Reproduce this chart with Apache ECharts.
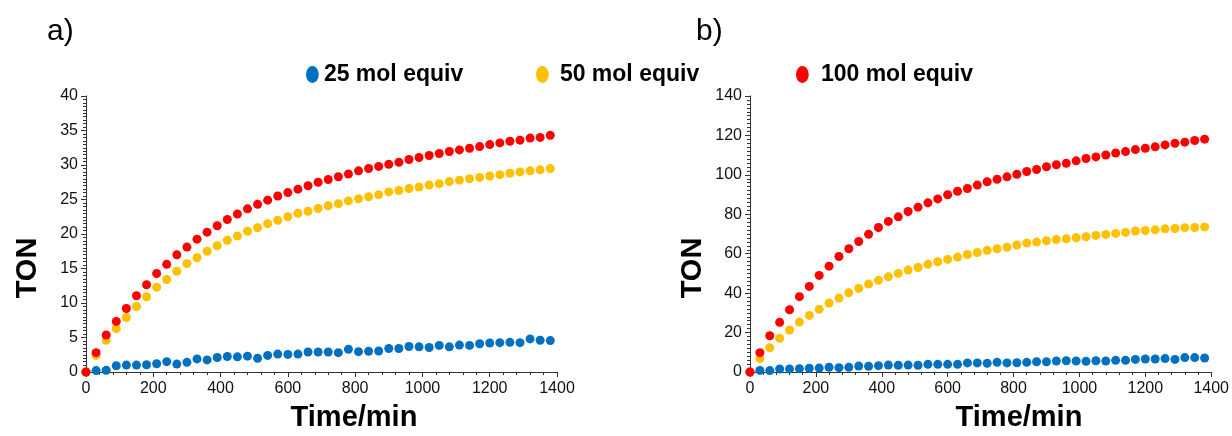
<!DOCTYPE html>
<html>
<head>
<meta charset="utf-8">
<script src="https://cdn.jsdelivr.net/npm/echarts@6/dist/echarts.min.js"></script>
<style>
html,body{margin:0;padding:0;background:#fff;}
#chart{width:1232px;height:436px;}
</style>
</head>
<body>
<div id="chart"></div>
<script>
// Time points (min)
const timeMin = [0,30,60,90,120,150,180,210,240,270,300,330,360,390,420,450,480,510,540,570,600,630,660,690,720,750,780,810,840,870,900,930,960,990,1020,1050,1080,1110,1140,1170,1200,1230,1260,1290,1320,1350,1380];

const seriesNames = ['25 mol equiv', '50 mol equiv', '100 mol equiv'];

// Panel a) TON
const a25 = [0,0.2,0.25,0.9,1.0,1.0,1.05,1.2,1.5,1.15,1.4,1.9,1.75,2.1,2.25,2.2,2.3,2.0,2.4,2.6,2.55,2.6,2.9,2.9,2.9,2.8,3.3,2.95,3.0,3.05,3.4,3.4,3.7,3.65,3.55,3.85,3.65,3.9,3.85,4.1,4.2,4.25,4.3,4.25,4.8,4.6,4.55];
const a50 = [0,2.4,4.6,6.3,7.9,9.5,10.9,12.3,13.4,14.6,15.7,16.55,17.5,18.3,19.1,19.7,20.4,20.9,21.5,22.0,22.5,23.0,23.3,23.7,24.1,24.4,24.8,25.1,25.4,25.7,26.1,26.3,26.6,26.8,27.1,27.3,27.6,27.8,28.0,28.2,28.4,28.6,28.8,29.0,29.15,29.3,29.5];
const a100 = [0,2.8,5.36,7.33,9.2,11.05,12.64,14.28,15.6,17.0,18.1,19.25,20.27,21.2,22.1,22.9,23.65,24.3,24.9,25.5,26.0,26.5,27.0,27.5,27.9,28.3,28.7,29.15,29.5,29.8,30.1,30.4,30.8,31.08,31.37,31.66,31.95,32.19,32.43,32.67,32.96,33.2,33.45,33.6,33.9,34.0,34.3];

// Panel b) TON
const b25 = [0,0.8,0.7,1.5,1.5,1.7,1.9,2.0,2.4,2.2,2.4,3.0,2.9,3.2,3.5,3.4,3.5,3.4,3.9,3.9,3.9,3.9,4.6,4.6,4.4,4.9,4.6,4.7,4.9,5.2,5.2,5.6,5.7,5.6,5.4,5.7,5.6,5.9,5.9,6.4,6.6,6.6,6.8,6.4,7.3,7.3,7.1];
const b50 = [0,6.8,12.3,17.1,21.3,25.3,28.7,31.8,35.0,37.5,40.2,42.4,44.6,46.5,48.3,50.0,51.7,53.0,54.6,55.9,57.1,58.3,59.6,60.6,61.7,62.5,63.3,64.4,65.4,65.9,66.6,67.2,67.6,68.1,68.6,69.3,69.8,70.3,70.8,71.5,71.8,72.1,72.6,72.8,73.2,73.3,73.6];
const b100 = [0,9.8,18.4,25.2,31.6,38.2,43.4,49.0,53.7,58.6,62.5,66.2,69.9,73.3,76.4,78.7,81.4,83.6,85.8,87.8,89.9,91.7,93.1,94.8,96.5,97.8,99.0,100.3,101.7,102.7,104.1,105.1,105.9,107.1,108.3,109.1,110.1,111.1,111.8,112.8,113.5,114.2,115.2,116.0,116.6,117.4,118.1];

const colors = ['#0070C0', '#FFC000', '#FF0000'];
const FONT = '"Liberation Sans", Arial, sans-serif';

function pairs(ys) { return timeMin.map((t, i) => [t, ys[i]]); }

function xAxisCfg(gridIndex) {
  return {
    type: 'value', gridIndex, min: 0, max: 1400, interval: 200,
    axisLine: { show: true, onZero: false, lineStyle: { color: '#333', width: 1 } },
    axisTick: { show: true, length: 5, lineStyle: { color: '#333' } },
    minorTick: { show: true, splitNumber: 5, length: 3, lineStyle: { color: '#333' } },
    splitLine: { show: false },
    axisLabel: { fontFamily: FONT, fontSize: 16, color: '#111', margin: 9, formatter: v => String(v) }
  };
}
function yAxisCfg(gridIndex, max, interval) {
  return {
    type: 'value', gridIndex, min: 0, max, interval,
    axisLine: { show: true, lineStyle: { color: '#333', width: 1 } },
    axisTick: { show: true, length: 5, lineStyle: { color: '#333' } },
    minorTick: { show: true, splitNumber: 10, length: 3, lineStyle: { color: '#333' } },
    splitLine: { show: false },
    axisLabel: { fontFamily: FONT, fontSize: 16, color: '#111', margin: 8, formatter: v => String(v) }
  };
}

const seriesList = [];
[[a25, a50, a100], [b25, b50, b100]].forEach((set, g) => {
  set.forEach((ys, k) => {
    seriesList.push({
      type: 'scatter', name: seriesNames[k], xAxisIndex: g, yAxisIndex: g,
      data: pairs(ys), symbol: 'circle', symbolSize: 9,
      itemStyle: { color: colors[k], opacity: 1 },
      z: 2 + k
    });
  });
});

const ellipseIcon = 'path://M0,8A6,8 0 1,1 12,8A6,8 0 1,1 0,8Z';
function legendCfg(k, left, padLeft) {
  return {
    data: [seriesNames[k]], left, top: 58, icon: ellipseIcon,
    itemWidth: 13, itemHeight: 17, selectedMode: false,
    textStyle: { fontFamily: FONT, fontSize: 23, fontWeight: 'bold', color: '#000', padding: [0, 0, 0, padLeft] }
  };
}

const titleFont = 'bold 29px ' + FONT;
const option = {
  animation: false,
  backgroundColor: '#fff',
  color: colors,
  grid: [
    { left: 86, width: 471, top: 96, height: 276 },
    { left: 750, width: 463, top: 96, height: 276 }
  ],
  xAxis: [xAxisCfg(0), xAxisCfg(1)],
  yAxis: [yAxisCfg(0, 40, 5), yAxisCfg(1, 140, 20)],
  legend: [legendCfg(0, 301, 0), legendCfg(1, 531, 6), legendCfg(2, 791, 7)],
  graphic: [
    { type: 'text', left: 47, top: 17, style: { text: 'a)', font: '30px ' + FONT, fill: '#000' } },
    { type: 'text', left: 696, top: 17, style: { text: 'b)', font: '30px ' + FONT, fill: '#000' } },
    { type: 'text', x: 28, y: 268, rotation: Math.PI / 2, style: { text: 'TON', font: titleFont, fill: '#000', align: 'center', verticalAlign: 'middle' } },
    { type: 'text', x: 693, y: 268, rotation: Math.PI / 2, style: { text: 'TON', font: titleFont, fill: '#000', align: 'center', verticalAlign: 'middle' } },
    { type: 'text', x: 354, y: 418, style: { text: 'Time/min', font: titleFont, fill: '#000', align: 'center', verticalAlign: 'middle' } },
    { type: 'text', x: 1019, y: 418, style: { text: 'Time/min', font: titleFont, fill: '#000', align: 'center', verticalAlign: 'middle' } }
  ],
  series: seriesList
};

const chart = echarts.init(document.getElementById('chart'), null, { renderer: 'canvas' });
chart.setOption(option);
</script>
</body>
</html>
